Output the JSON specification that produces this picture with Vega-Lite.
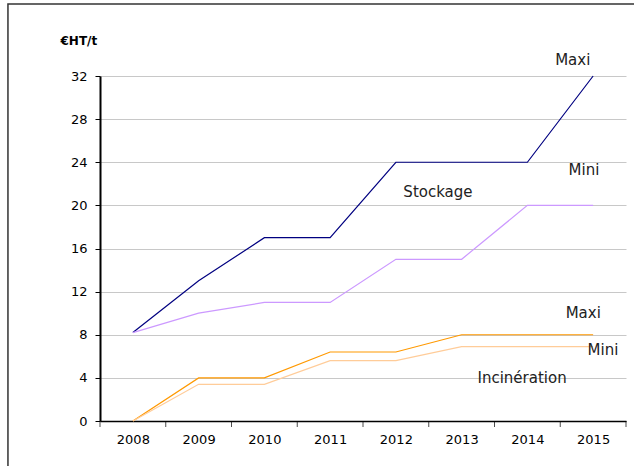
{
  "$schema": "https://vega.github.io/schema/vega-lite/v6.json",
  "autosize": {"type": "none"},
  "padding": {"left": 100, "top": 76, "right": 8, "bottom": 45},
  "width": 526,
  "height": 345,
  "background": "white",
  "config": {
    "view": {"stroke": null},
    "font": "DejaVu Sans",
    "axis": {"labelFont": "DejaVu Sans", "labelColor": "#000", "titleFont": "DejaVu Sans"}
  },
  "datasets": {
    "series": [
      {"year": 2008, "value": 8.2, "series": "Stockage Maxi"},
      {"year": 2009, "value": 13, "series": "Stockage Maxi"},
      {"year": 2010, "value": 17, "series": "Stockage Maxi"},
      {"year": 2011, "value": 17, "series": "Stockage Maxi"},
      {"year": 2012, "value": 24, "series": "Stockage Maxi"},
      {"year": 2013, "value": 24, "series": "Stockage Maxi"},
      {"year": 2014, "value": 24, "series": "Stockage Maxi"},
      {"year": 2015, "value": 32, "series": "Stockage Maxi"},
      {"year": 2008, "value": 8.2, "series": "Stockage Mini"},
      {"year": 2009, "value": 10, "series": "Stockage Mini"},
      {"year": 2010, "value": 11, "series": "Stockage Mini"},
      {"year": 2011, "value": 11, "series": "Stockage Mini"},
      {"year": 2012, "value": 15, "series": "Stockage Mini"},
      {"year": 2013, "value": 15, "series": "Stockage Mini"},
      {"year": 2014, "value": 20, "series": "Stockage Mini"},
      {"year": 2015, "value": 20, "series": "Stockage Mini"},
      {"year": 2008, "value": 0, "series": "Incinération Maxi"},
      {"year": 2009, "value": 4, "series": "Incinération Maxi"},
      {"year": 2010, "value": 4, "series": "Incinération Maxi"},
      {"year": 2011, "value": 6.4, "series": "Incinération Maxi"},
      {"year": 2012, "value": 6.4, "series": "Incinération Maxi"},
      {"year": 2013, "value": 8, "series": "Incinération Maxi"},
      {"year": 2014, "value": 8, "series": "Incinération Maxi"},
      {"year": 2015, "value": 8, "series": "Incinération Maxi"},
      {"year": 2008, "value": 0, "series": "Incinération Mini"},
      {"year": 2009, "value": 3.4, "series": "Incinération Mini"},
      {"year": 2010, "value": 3.4, "series": "Incinération Mini"},
      {"year": 2011, "value": 5.6, "series": "Incinération Mini"},
      {"year": 2012, "value": 5.6, "series": "Incinération Mini"},
      {"year": 2013, "value": 6.9, "series": "Incinération Mini"},
      {"year": 2014, "value": 6.9, "series": "Incinération Mini"},
      {"year": 2015, "value": 6.9, "series": "Incinération Mini"}
    ],
    "labels": [
      {"year": 2014.69, "value": 33.5, "text": "Maxi"},
      {"year": 2014.86, "value": 23.3, "text": "Mini"},
      {"year": 2012.64, "value": 21.2, "text": "Stockage"},
      {"year": 2014.85, "value": 10.0, "text": "Maxi"},
      {"year": 2015.15, "value": 6.6, "text": "Mini"},
      {"year": 2013.92, "value": 4.0, "text": "Incinération"}
    ],
    "frame": [
      {"x1": 2006.1, "x2": 2017, "y1": -6, "y2": 38.68}
    ],
    "bandticks": [
      {"year": 2007.5}, {"year": 2008.5}, {"year": 2009.5}, {"year": 2010.5},
      {"year": 2011.5}, {"year": 2012.5}, {"year": 2013.5}, {"year": 2014.5}, {"year": 2015.5}
    ]
  },
  "layer": [
    {
      "data": {"name": "series"},
      "mark": {"type": "line", "strokeWidth": 1.2},
      "encoding": {
        "x": {
          "field": "year", "type": "quantitative",
          "scale": {"domain": [2007.5, 2015.5], "nice": false, "zero": false},
          "axis": {
            "values": [2008, 2009, 2010, 2011, 2012, 2013, 2014, 2015],
            "format": "d", "ticks": false, "domain": true, "domainColor": "#000", "domainWidth": 1.5,
            "grid": false, "labelFontSize": 13, "labelPadding": 12, "title": null
          }
        },
        "y": {
          "field": "value", "type": "quantitative",
          "scale": {"domain": [0, 32], "nice": false},
          "axis": {
            "values": [0, 4, 8, 12, 16, 20, 24, 28, 32],
            "grid": true, "gridColor": "#c8c8c8", "gridWidth": 1,
            "domainColor": "#000", "domainWidth": 2, "tickColor": "#000", "tickSize": 5,
            "labelFontSize": 13, "labelPadding": 8,
            "title": "€HT/t", "titleAngle": 0, "titleAlign": "left", "titleBaseline": "alphabetic",
            "titleX": -40, "titleY": -32, "titleFontSize": 12, "titleFontWeight": "bold", "titleColor": "#000"
          }
        },
        "color": {
          "field": "series", "type": "nominal",
          "scale": {
            "domain": ["Stockage Maxi", "Stockage Mini", "Incinération Maxi", "Incinération Mini"],
            "range": ["#000080", "#cc99ff", "#ff9900", "#ffcc99"]
          },
          "legend": null
        }
      }
    },
    {
      "data": {"name": "bandticks"},
      "mark": {"type": "tick", "orient": "vertical", "color": "#000", "size": 6, "thickness": 1, "yOffset": 3, "clip": false},
      "encoding": {
        "x": {"field": "year", "type": "quantitative"},
        "y": {"datum": 0, "type": "quantitative"}
      }
    },
    {
      "data": {"name": "labels"},
      "mark": {"type": "text", "fontSize": 15, "font": "DejaVu Sans", "color": "#222", "align": "center", "baseline": "middle", "clip": false},
      "encoding": {
        "x": {"field": "year", "type": "quantitative"},
        "y": {"field": "value", "type": "quantitative"},
        "text": {"field": "text"}
      }
    },
    {
      "data": {"name": "frame"},
      "mark": {"type": "rect", "fill": null, "stroke": "#333", "strokeWidth": 1.5, "clip": false},
      "encoding": {
        "x": {"field": "x1", "type": "quantitative"},
        "x2": {"field": "x2"},
        "y": {"field": "y1", "type": "quantitative"},
        "y2": {"field": "y2"}
      }
    }
  ]
}
